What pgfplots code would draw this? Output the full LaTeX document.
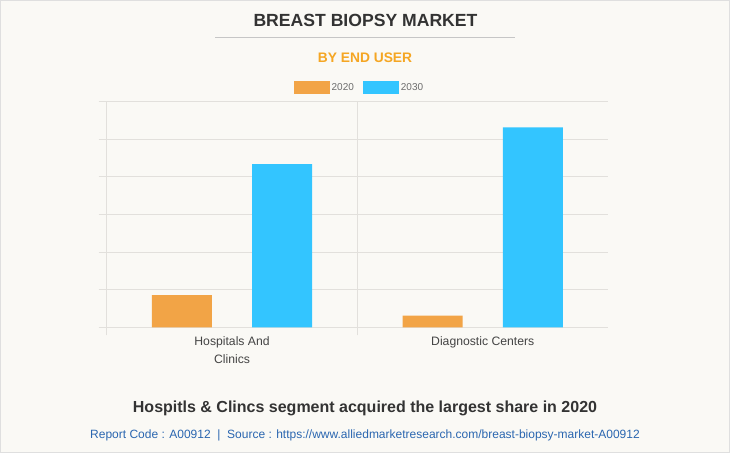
\documentclass[border=0pt]{standalone}
\usepackage{pgfplots}
\pgfplotsset{compat=1.18}
\usepackage{fontspec}
\setmainfont{Liberation Sans}
\definecolor{bg}{HTML}{FAF9F5}
\definecolor{titlec}{HTML}{333333}
\definecolor{subc}{HTML}{F5A623}
\definecolor{c2020}{HTML}{F2A446}
\definecolor{c2030}{HTML}{33C5FF}
\definecolor{gridc}{HTML}{E2E0DC}
\definecolor{footc}{HTML}{2A66B0}
\definecolor{labc}{HTML}{444444}
\begin{document}
\begin{tikzpicture}[x=1pt,y=1pt]
\fill[bg] (0pt,0pt) rectangle (730pt,453pt);
\draw[gray!25] (0.5pt,0.5pt) rectangle (729.5pt,452.5pt);
\node[font=\fontsize{17.6}{20}\selectfont\bfseries, text=titlec] at (365.5pt,433pt) {BREAST BIOPSY MARKET};
\draw[gray!45, line width=0.8pt] (215pt,416pt) -- (515pt,416pt);
\node[font=\fontsize{13.8}{16}\selectfont\bfseries, text=subc] at (365pt,395pt) {BY END USER};
\begin{axis}[
  at={(106.7pt,125.7pt)}, anchor=south west,
  scale only axis, width=501.4pt, height=226pt,
  xmin=0, xmax=2, ymin=0, ymax=6,
  axis x line*=bottom, axis y line*=left,
  axis line style={gridc, line width=0.8pt},
  xtick={0,1}, xticklabels={},
  ytick={0,1,2,3,4,5,6}, yticklabels={},
  extra x ticks={0.5,1.5},
  extra x tick labels={Hospitals And\\Clinics, Diagnostic Centers},
  extra x tick style={major tick length=0pt, grid=none,
     xticklabel style={align=center, font=\fontsize{12.2}{18}\selectfont, text=labc, yshift=-6pt}},
  grid=major, major grid style={gridc, line width=0.8pt},
  tick align=outside, major tick length=8pt,
  tick style={gridc, line width=0.8pt},
  ybar, bar width=60pt, bar shift=0pt,
  legend style={at={(0.5,1)}, anchor=south, yshift=7pt, xshift=2pt, draw=none, fill=none,
    font=\fontsize{10}{12}\selectfont, text=gray!85!black, legend columns=2,
    /tikz/every even column/.append style={column sep=7pt},
    legend cell align=left, inner sep=0pt},
  legend image code/.code={\fill[#1] (0pt,-6.5pt) rectangle (36pt,6.5pt);},
]
\addplot[fill=c2020, draw=none] coordinates {(0.3,0.857) (1.3,0.31)};
\addplot[fill=c2030, draw=none] coordinates {(0.7,4.33) (1.7,5.305)};
\legend{2020,2030}
\end{axis}
\node[font=\fontsize{16}{18}\selectfont\bfseries, text=titlec] at (365pt,45pt) {Hospitls \& Clincs segment acquired the largest share in 2020};
\node[font=\fontsize{12}{14}\selectfont, text=footc] at (365pt,18pt) {Report Code : A00912~~|~~Source : https://www.alliedmarketresearch.com/breast-biopsy-market-A00912};
\end{tikzpicture}
\end{document}
